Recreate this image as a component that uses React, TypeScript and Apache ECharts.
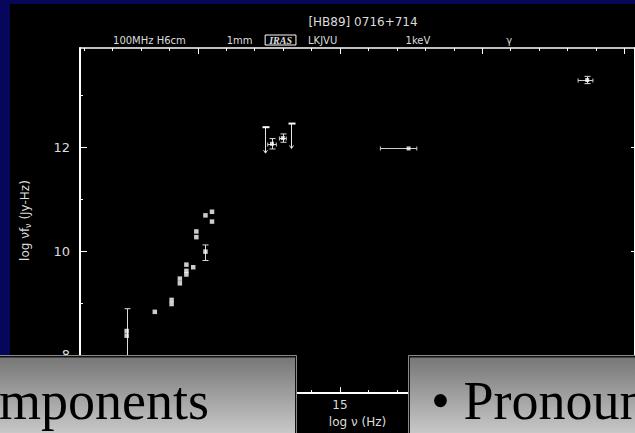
import React, { useEffect, useRef } from "react";
import * as echarts from "echarts";

const sourceName = "[HB89] 0716+714";

// Radio to millimetre photometry: log ν (Hz) and log νFν (Jy-Hz)
const radioLogNu = [7.5, 7.5, 8.49, 9.08, 9.08, 9.37, 9.37, 9.6, 9.6, 9.6, 9.84, 9.95, 9.95, 10.27, 10.27, 10.5, 10.5];
const radioLogNuFnu = [8.46, 8.37, 8.83, 9.06, 8.98, 9.47, 9.38, 9.74, 9.62, 9.55, 9.69, 10.38, 10.27, 9.99, 10.69, 10.76, 10.57];

// Infrared, X-ray and gamma-ray detections
const highLogNu = [12.61, 12.99, 17.41, 23.69];
const highLogNuFnu = [12.07, 12.18, 11.98, 13.3];

// IRAS upper limits: value and the end of the downward arrow
const limitLogNu = [12.38, 13.29];
const limitLogNuFnu = [12.39, 12.46];
const limitArrowTo = [11.89, 11.98];

// Vertical error bars
const yErrLogNu = [7.5, 10.27, 12.61, 12.99, 23.69];
const yErrLow = [7.6, 9.82, 11.97, 12.1, 13.23];
const yErrHigh = [8.89, 10.12, 12.17, 12.26, 13.37];

// Horizontal error bars (band widths)
const xErrLogNuFnu = [12.07, 12.18, 11.98, 13.3];
const xErrLow = [12.46, 12.87, 16.42, 23.37];
const xErrHigh = [12.76, 13.11, 17.7, 23.89];

// Axis ticks and band markers along the top
const majorNuTicks = [10, 15, 20, 25];
const minorNuTicks = [6, 7, 8, 9, 11, 12, 13, 14, 16, 17, 18, 19, 21, 22, 23, 24];
const nuTickLabels = [15];
const majorFluxTicks = [8, 10, 12];
const minorFluxTicks = [9, 11, 13];
const bandNames = ["100MHz H6cm", "1mm", "IRAS", "LKJVU", "1keV", "γ"];
const bandLogNu = [8.3, 11.47, 12.91, 14.39, 17.74, 20.95];

const X_MIN = 5.86;
const X_MAX = 25.37;
const Y_MIN = 7.263;
const Y_MAX = 13.917;

const INK = "#dcdcdc";
const AXIS_FONT = "DejaVu Sans";

function zip(a: number[], b: number[], c?: number[]) {
  return a.map((v, i) => (c ? [v, b[i], c[i]] : [v, b[i]]));
}

export default function App() {
  const ref = useRef<HTMLDivElement>(null);

  useEffect(() => {
    if (!ref.current) return;
    const chart = echarts.init(ref.current, null, { renderer: "svg" });

    const line = (x1: number, y1: number, x2: number, y2: number, w = 1, c = "#fff") => ({
      type: "line",
      shape: { x1, y1, x2, y2 },
      style: { stroke: c, lineWidth: w },
    });

    const boxGradient = new echarts.graphic.LinearGradient(0, 0, 0, 1, [
      { offset: 0, color: "#777777" },
      { offset: 1, color: "#d2d2d2" },
    ]);

    const panel = (x: number, w: number) => [
      {
        type: "rect",
        z: 100,
        shape: { x: x + 0.5, y: 355.5, width: w, height: 90 },
        style: { fill: "#111", stroke: "#8a8a8a", lineWidth: 1 },
      },
      {
        type: "rect",
        z: 101,
        shape: { x: x + 2, y: 357.5, width: w - 3, height: 85 },
        style: { fill: boxGradient },
      },
    ];

    const option: any = {
      animation: false,
      backgroundColor: "transparent",
      title: {
        text: sourceName,
        left: 358,
        top: 11,
        textAlign: "center",
        textStyle: { color: INK, fontSize: 12, fontWeight: "normal", fontFamily: AXIS_FONT },
      },
      grid: { left: 80, top: 48, width: 556, height: 346, show: false },
      xAxis: [
        {
          type: "value",
          position: "bottom",
          min: X_MIN,
          max: X_MAX,
          splitLine: { show: false },
          axisLine: { show: true, onZero: false, lineStyle: { color: "#fff", width: 2 } },
          axisTick: { show: true, inside: true, length: 6, customValues: majorNuTicks, lineStyle: { color: "#fff" } },
          axisLabel: { show: true, customValues: nuTickLabels, margin: 6, color: INK, fontSize: 12, fontFamily: AXIS_FONT },
          name: "log ν (Hz)",
          nameLocation: "middle",
          nameGap: 22,
          nameTextStyle: { color: INK, fontSize: 12, fontFamily: AXIS_FONT },
        },
        {
          type: "value",
          position: "bottom",
          min: X_MIN,
          max: X_MAX,
          splitLine: { show: false },
          axisLine: { show: false, onZero: false },
          axisTick: { show: true, inside: true, length: 3, customValues: minorNuTicks, lineStyle: { color: "#fff" } },
          axisLabel: { show: false },
        },
        {
          type: "value",
          position: "top",
          min: X_MIN,
          max: X_MAX,
          splitLine: { show: false },
          axisLine: { show: true, onZero: false, lineStyle: { color: "#fff", width: 1.5 } },
          axisTick: { show: true, inside: true, length: 6, customValues: majorNuTicks, lineStyle: { color: "#fff" } },
          axisLabel: {
            show: true,
            customValues: bandLogNu,
            margin: 3,
            color: INK,
            fontSize: 10,
            fontFamily: AXIS_FONT,
            hideOverlap: false,
            formatter: (v: number) => {
              let best = 0;
              bandLogNu.forEach((b, i) => {
                if (Math.abs(b - v) < Math.abs(bandLogNu[best] - v)) best = i;
              });
              const name = bandNames[best];
              return name === "IRAS" ? "{iras|IRAS}" : name;
            },
            rich: {
              iras: {
                color: INK,
                fontSize: 10,
                fontStyle: "italic",
                fontWeight: "bold",
                fontFamily: "Liberation Serif",
                borderColor: "#fff",
                borderWidth: 1,
                padding: [0, 4, 0, 4],
              },
            },
          },
        },
        {
          type: "value",
          position: "top",
          min: X_MIN,
          max: X_MAX,
          splitLine: { show: false },
          axisLine: { show: false, onZero: false },
          axisTick: { show: true, inside: true, length: 3, customValues: minorNuTicks, lineStyle: { color: "#fff" } },
          axisLabel: { show: false },
        },
      ],
      yAxis: [
        {
          type: "value",
          position: "left",
          min: Y_MIN,
          max: Y_MAX,
          splitLine: { show: false },
          axisLine: { show: true, onZero: false, lineStyle: { color: "#fff", width: 2 } },
          axisTick: { show: true, inside: true, length: 7, customValues: majorFluxTicks, lineStyle: { color: "#fff" } },
          axisLabel: { show: true, customValues: majorFluxTicks, margin: 10, color: INK, fontSize: 13, fontFamily: AXIS_FONT },
          name: "log νf{sub|ν} (Jy-Hz)",
          nameLocation: "middle",
          nameGap: 48,
          nameTextStyle: {
            color: INK,
            fontSize: 12,
            fontFamily: AXIS_FONT,
            rich: { sub: { color: INK, fontSize: 8, fontFamily: AXIS_FONT, verticalAlign: "bottom", padding: [7, 0, 0, 0] } },
          },
        },
        {
          type: "value",
          position: "left",
          min: Y_MIN,
          max: Y_MAX,
          splitLine: { show: false },
          axisLine: { show: false, onZero: false },
          axisTick: { show: true, inside: true, length: 3, customValues: minorFluxTicks, lineStyle: { color: "#fff" } },
          axisLabel: { show: false },
        },
        {
          type: "value",
          position: "right",
          min: Y_MIN,
          max: Y_MAX,
          splitLine: { show: false },
          axisLine: { show: true, onZero: false, lineStyle: { color: "#fff", width: 2 } },
          axisTick: { show: true, inside: true, length: 4, customValues: majorFluxTicks, lineStyle: { color: "#fff" } },
          axisLabel: { show: false },
        },
      ],
      series: [
        {
          type: "custom",
          name: "vertical errors",
          xAxisIndex: 0,
          yAxisIndex: 0,
          data: zip(yErrLogNu, yErrLow, yErrHigh),
          encode: { x: 0, y: [1, 2] },
          renderItem: (_p: any, api: any) => {
            const lo = api.coord([api.value(0), api.value(1)]);
            const hi = api.coord([api.value(0), api.value(2)]);
            const x = Math.round(lo[0]) + 0.5;
            return {
              type: "group",
              children: [
                line(x, lo[1], x, hi[1], 1, "#dcdcdc"),
                line(x - 3, hi[1], x + 3, hi[1], 1, "#dcdcdc"),
                line(x - 3, lo[1], x + 3, lo[1], 1, "#dcdcdc"),
              ],
            };
          },
        },
        {
          type: "custom",
          name: "horizontal errors",
          xAxisIndex: 0,
          yAxisIndex: 0,
          data: zip(xErrLogNuFnu, xErrLow, xErrHigh),
          encode: { y: 0, x: [1, 2] },
          renderItem: (_p: any, api: any) => {
            const lo = api.coord([api.value(1), api.value(0)]);
            const hi = api.coord([api.value(2), api.value(0)]);
            const y = Math.round(lo[1]) + 0.5;
            return {
              type: "group",
              children: [
                line(lo[0], y, hi[0], y, 1, "#cfcfcf"),
                line(lo[0], y - 2, lo[0], y + 2, 1, "#cfcfcf"),
                line(hi[0], y - 2, hi[0], y + 2, 1, "#cfcfcf"),
              ],
            };
          },
        },
        {
          type: "custom",
          name: "upper limits",
          xAxisIndex: 0,
          yAxisIndex: 0,
          data: zip(limitLogNu, limitLogNuFnu, limitArrowTo),
          encode: { x: 0, y: [1, 2] },
          renderItem: (_p: any, api: any) => {
            const top = api.coord([api.value(0), api.value(1)]);
            const end = api.coord([api.value(0), api.value(2)]);
            const x = Math.round(top[0]) + 0.5;
            return {
              type: "group",
              children: [
                line(x, top[1], x, end[1], 1, "#e6e6e6"),
                line(x - 3, top[1], x + 4, top[1], 2, "#fff"),
                line(x - 2, end[1] - 3, x, end[1], 1, "#e6e6e6"),
                line(x + 2, end[1] - 3, x, end[1], 1, "#e6e6e6"),
              ],
            };
          },
        },
        {
          type: "scatter",
          name: "radio",
          xAxisIndex: 0,
          yAxisIndex: 0,
          symbol: "rect",
          symbolSize: 4.5,
          itemStyle: { color: "#fff" },
          data: zip(radioLogNu, radioLogNuFnu),
          z: 5,
        },
        {
          type: "scatter",
          name: "high energy",
          xAxisIndex: 0,
          yAxisIndex: 0,
          symbol: "rect",
          symbolSize: 4,
          itemStyle: { color: "#fff" },
          data: zip(highLogNu, highLogNuFnu),
          z: 5,
        },
      ],
      graphic: {
        elements: [
          ...panel(-2, 298),
          ...panel(408, 240),
          {
            type: "text",
            z: 102,
            x: -1,
            y: 401,
            style: {
              text: "mponents",
              fill: "#000",
              font: "54px 'Liberation Serif'",
              verticalAlign: "middle",
            },
          },
          {
            type: "text",
            z: 102,
            x: 431,
            y: 401,
            style: {
              text: "• Pronoun",
              fill: "#000",
              font: "54px 'Liberation Serif'",
              verticalAlign: "middle",
            },
          },
        ],
      },
    };

    chart.setOption(option);
    return () => chart.dispose();
  }, []);

  return (
    <div style={{ position: "fixed", left: 0, top: 0, width: 635, height: 433, background: "#06065a", overflow: "hidden" }}>
      <div style={{ position: "absolute", left: 10, top: 4, width: 640, height: 440, background: "#000" }} />
      <div ref={ref} style={{ position: "absolute", left: 0, top: 0, width: 635, height: 433 }} />
    </div>
  );
}
